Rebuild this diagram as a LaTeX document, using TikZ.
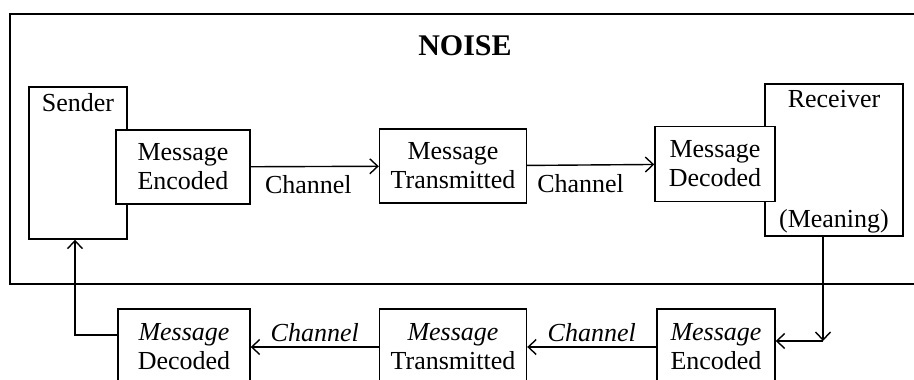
\documentclass[tikz,border=0pt]{standalone}
\usepackage{fontspec}
\setmainfont{Liberation Serif}
\usepackage{tikz}
\usetikzlibrary{
    calc,
    arrows.meta
}
\tikzset{
    box/.style={draw, fill=white, align=center, inner sep=0pt},
    tall/.style={box, minimum height=152pt}
}

\begin{document}
\begin{tikzpicture}[x=1pt, y=-1pt, line width=1.4pt,
        >={Straight Barb[length=8pt,width=15pt]},
        font=\fontsize{26}{29}\selectfont]
        \clip (0,0) rectangle (914,380);

        % noise frame
        \draw (914,14) -- (10,14) -- (10,284) -- (914,284);
        \draw (465,46) node(noise){\fontsize{30}{36}\selectfont\bfseries NOISE};

        % upper row
        \draw ( 78,163) node[tall, minimum width=98pt,
            label={[anchor=north,inner sep=6pt]north:Sender}](snd){};
        \draw (834,160) node[tall, minimum width=138pt,
            label={[anchor=north,inner sep=6pt]north:Receiver},
            label={[anchor=south,inner sep=3pt]south:(Meaning)}](rcv){};
        \draw (183,167) node[box, minimum width=134pt, minimum height=74pt](enc){Message\\Encoded};
        \draw (453,166) node[box, minimum width=147pt, minimum height=74pt](trn){Message\\Transmitted};
        \draw (715,164) node[box, minimum width=120pt, minimum height=75pt](dec){Message\\Decoded};

        \draw[->] (enc) to node[pos=0.45,below=5pt]{Channel} (trn);
        \draw[->] (trn) to node[pos=0.42,below=5pt]{Channel} (dec);

        % lower row
        \draw (716,347) node[box, minimum width=118pt, minimum height=76pt](enc2){\textit{Message}\\Encoded};
        \draw (453,347) node[box, minimum width=147pt, minimum height=76pt](trn2){\textit{Message}\\Transmitted};
        \draw (184,347) node[box, minimum width=132pt, minimum height=76pt](dec2){\textit{Message}\\Decoded};

        \draw[->] (enc2) to node[above=1pt]{\textit{Channel}} (trn2);
        \draw[->] (trn2) to node[above=1pt]{\textit{Channel}} (dec2);

        % feedback
        \coordinate (c1) at (823,341);
        \draw[->] ([xshift=-11pt]rcv.south) -- (c1);
        \draw[->] (c1) -- (enc2.east |- c1);
        \draw[->] ([yshift=12pt]dec2.west) -| ([xshift=-3pt]snd.south);
    \end{tikzpicture}
\end{document}
